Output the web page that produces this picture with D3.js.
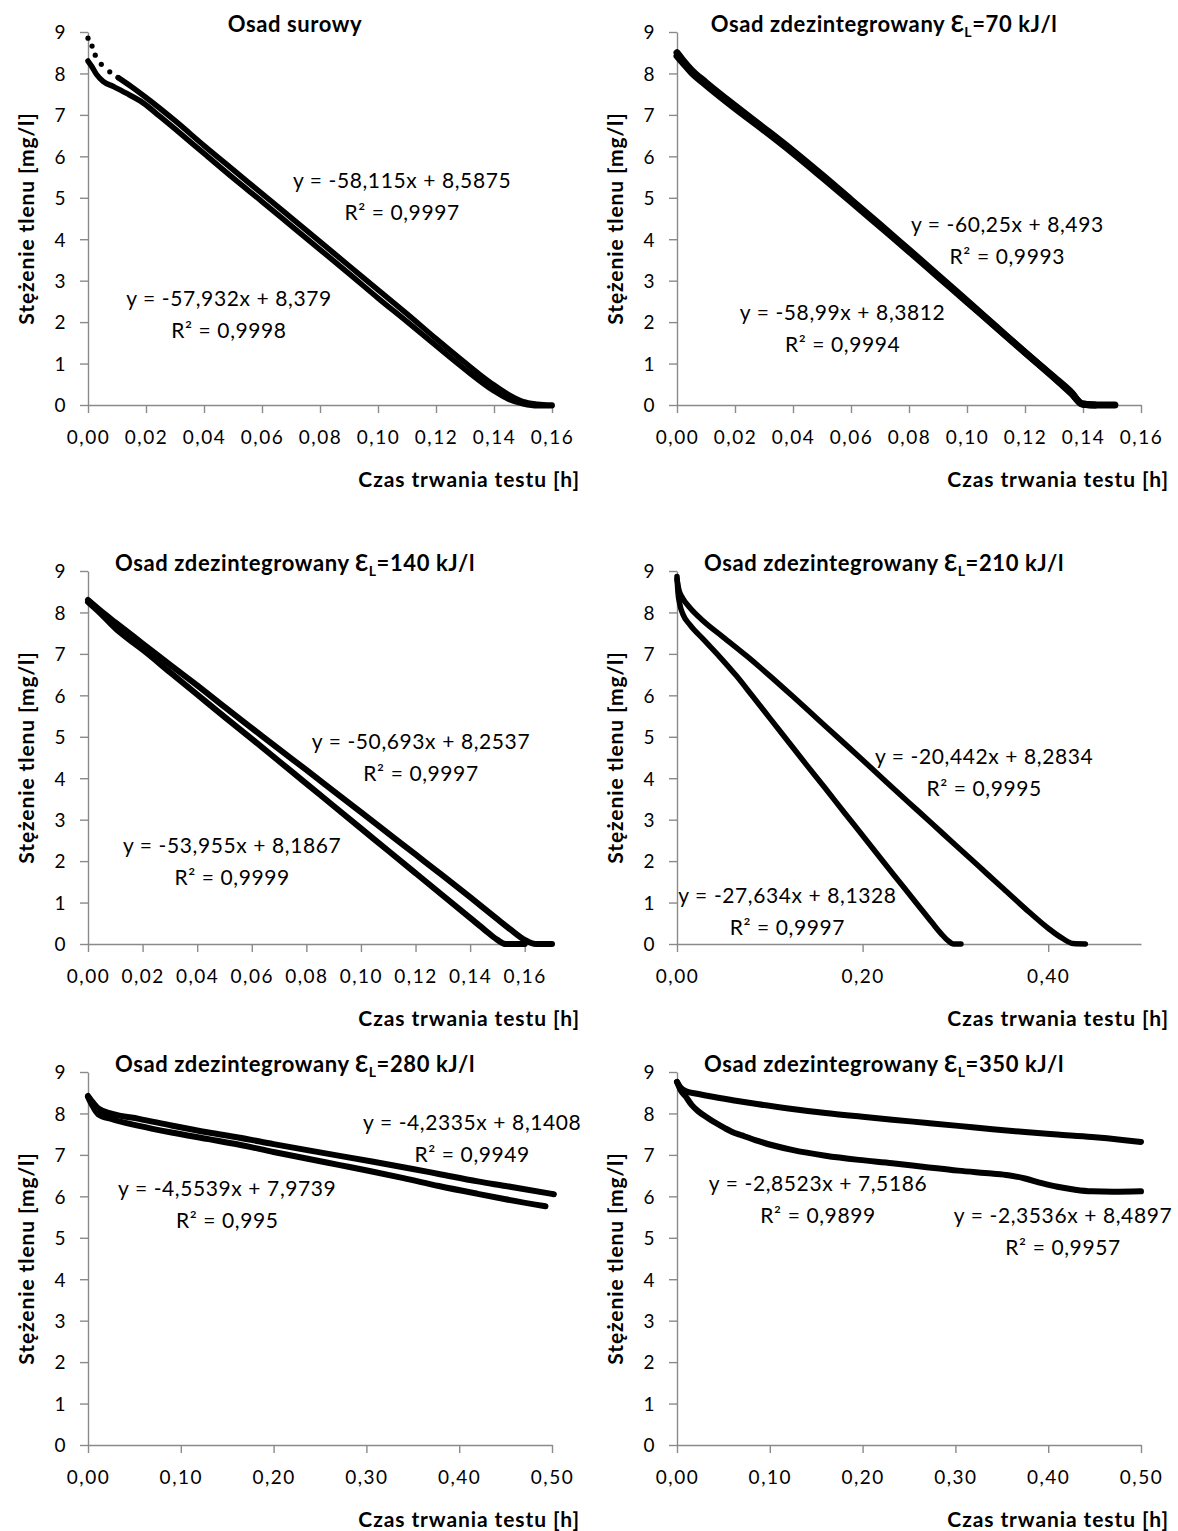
<!DOCTYPE html>
<html>
<head>
<meta charset="utf-8">
<script src="https://cdn.jsdelivr.net/npm/d3@7"></script>
<style>
  body { margin: 0; background: #fff; }
  text { font-family: Lato, "Open Sans", sans-serif; fill: #000; }
  .tick text { font-size: 19px; letter-spacing: 1.5px; }
  .ttl { font-size: 22px; font-weight: bold; letter-spacing: 0.6px; }
  .axt { font-size: 21px; font-weight: bold; letter-spacing: 0.9px; }
  .eq { font-size: 21px; letter-spacing: 0.6px; }
</style>
</head>
<body>
<div id="plot"></div>
<script>
// panel titles (energy of disintegration in kJ/l, null = raw sludge)
const titleText = ["Osad surowy", "Osad zdezintegrowany ", "Osad zdezintegrowany ", "Osad zdezintegrowany ", "Osad zdezintegrowany ", "Osad zdezintegrowany "];
const energy = [null, "70", "140", "210", "280", "350"];

// x axis per panel
const xMax = [0.16, 0.16, 0.17, 0.5, 0.5, 0.5];
const xStep = [0.02, 0.02, 0.02, 0.2, 0.1, 0.1];
const yTicks = [0, 1, 2, 3, 4, 5, 6, 7, 8, 9];

// Osad surowy
const p1aX = [0, 0.0014, 0.0025, 0.0046, 0.0075, 0.0104, 0.015, 0.02, 0.03, 0.04, 0.05, 0.06, 0.07, 0.08, 0.09, 0.10, 0.11, 0.12, 0.13, 0.135, 0.14, 0.145, 0.15, 0.155, 0.16];
const p1aY = [8.85, 8.66, 8.44, 8.22, 8.04, 7.90, 7.68, 7.42, 6.86, 6.26, 5.68, 5.10, 4.52, 3.94, 3.36, 2.78, 2.20, 1.60, 1.02, 0.74, 0.48, 0.25, 0.08, 0.02, 0.00];
const p1bX = [0, 0.0012, 0.0029, 0.0052, 0.0086, 0.013, 0.019, 0.025, 0.03, 0.04, 0.05, 0.06, 0.07, 0.08, 0.09, 0.10, 0.11, 0.12, 0.13, 0.14, 0.145, 0.15, 0.155, 0.16];
const p1bY = [8.30, 8.18, 7.98, 7.81, 7.69, 7.53, 7.29, 6.95, 6.66, 6.07, 5.48, 4.91, 4.33, 3.75, 3.17, 2.58, 2.01, 1.43, 0.86, 0.34, 0.14, 0.03, -0.02, -0.02];

// 70 kJ/l
const p2aX = [0, 0.002, 0.005, 0.01, 0.02, 0.03, 0.04, 0.05, 0.06, 0.07, 0.08, 0.09, 0.10, 0.11, 0.12, 0.13, 0.136, 0.14, 0.145, 0.151];
const p2aY = [8.50, 8.32, 8.08, 7.78, 7.22, 6.68, 6.13, 5.55, 4.95, 4.35, 3.74, 3.13, 2.51, 1.89, 1.27, 0.66, 0.28, 0.02, 0.00, 0.00];
const p2bX = [0, 0.002, 0.005, 0.01, 0.02, 0.03, 0.04, 0.05, 0.06, 0.07, 0.08, 0.09, 0.10, 0.11, 0.12, 0.13, 0.136, 0.1395, 0.144];
const p2bY = [8.42, 8.26, 8.02, 7.72, 7.16, 6.63, 6.08, 5.50, 4.91, 4.31, 3.71, 3.10, 2.49, 1.88, 1.27, 0.67, 0.30, 0.03, 0.00];

// 140 kJ/l
const p3aX = [0, 0.005, 0.01, 0.02, 0.03, 0.04, 0.05, 0.06, 0.07, 0.08, 0.09, 0.10, 0.11, 0.12, 0.13, 0.14, 0.15, 0.155, 0.16, 0.164, 0.17];
const p3aY = [8.30, 8.02, 7.76, 7.25, 6.74, 6.24, 5.72, 5.21, 4.70, 4.20, 3.69, 3.18, 2.67, 2.16, 1.65, 1.13, 0.60, 0.34, 0.10, 0.00, 0.00];
const p3bX = [0, 0.005, 0.01, 0.015, 0.02, 0.03, 0.04, 0.05, 0.06, 0.07, 0.08, 0.09, 0.10, 0.11, 0.12, 0.13, 0.14, 0.145, 0.15, 0.153, 0.16];
const p3bY = [8.25, 7.95, 7.62, 7.35, 7.10, 6.56, 6.02, 5.48, 4.95, 4.41, 3.87, 3.33, 2.79, 2.25, 1.71, 1.17, 0.63, 0.36, 0.10, 0.00, 0.00];

// 210 kJ/l
const p4aX = [0, 0.002, 0.006, 0.0137, 0.028, 0.05, 0.075, 0.10, 0.125, 0.15, 0.175, 0.20, 0.225, 0.25, 0.275, 0.30, 0.325, 0.35, 0.375, 0.40, 0.415, 0.427, 0.44];
const p4aY = [8.80, 8.55, 8.35, 8.12, 7.80, 7.40, 6.95, 6.47, 5.97, 5.46, 4.95, 4.44, 3.92, 3.41, 2.90, 2.39, 1.88, 1.37, 0.86, 0.38, 0.14, 0.01, 0.00];
const p4bX = [0, 0.001, 0.003, 0.0065, 0.014, 0.028, 0.046, 0.064, 0.08, 0.10, 0.12, 0.14, 0.16, 0.18, 0.20, 0.22, 0.24, 0.26, 0.275, 0.285, 0.292, 0.298, 0.306];
const p4bY = [8.87, 8.50, 8.20, 7.95, 7.70, 7.36, 6.93, 6.47, 6.02, 5.45, 4.88, 4.31, 3.75, 3.18, 2.62, 2.05, 1.49, 0.93, 0.51, 0.24, 0.08, 0.00, 0.00];

// 280 kJ/l
const p5aX = [0, 0.004, 0.011, 0.026, 0.055, 0.09, 0.13, 0.162, 0.2, 0.25, 0.306, 0.35, 0.378, 0.42, 0.45, 0.502];
const p5aY = [8.42, 8.30, 8.12, 7.99, 7.87, 7.71, 7.54, 7.42, 7.26, 7.06, 6.84, 6.66, 6.54, 6.36, 6.25, 6.05];
const p5bX = [0, 0.004, 0.011, 0.026, 0.055, 0.09, 0.13, 0.162, 0.2, 0.234, 0.27, 0.306, 0.34, 0.378, 0.42, 0.45, 0.493];
const p5bY = [8.40, 8.22, 7.98, 7.86, 7.70, 7.54, 7.38, 7.25, 7.07, 6.92, 6.76, 6.60, 6.44, 6.25, 6.06, 5.93, 5.76];

// 350 kJ/l
const p6aX = [0, 0.004, 0.009, 0.02, 0.034, 0.06, 0.088, 0.12, 0.16, 0.2, 0.232, 0.27, 0.303, 0.34, 0.375, 0.41, 0.447, 0.48, 0.5];
const p6aY = [8.76, 8.62, 8.54, 8.48, 8.42, 8.32, 8.22, 8.12, 8.01, 7.92, 7.85, 7.77, 7.70, 7.62, 7.55, 7.49, 7.43, 7.36, 7.31];
const p6bX = [0, 0.004, 0.009, 0.016, 0.023, 0.034, 0.041, 0.052, 0.059, 0.07, 0.088, 0.105, 0.124, 0.16, 0.196, 0.232, 0.267, 0.303, 0.339, 0.357, 0.375, 0.393, 0.41, 0.429, 0.447, 0.47, 0.5];
const p6bY = [8.76, 8.56, 8.42, 8.20, 8.05, 7.88, 7.78, 7.64, 7.56, 7.47, 7.33, 7.22, 7.12, 6.98, 6.88, 6.80, 6.71, 6.62, 6.55, 6.51, 6.43, 6.32, 6.23, 6.16, 6.12, 6.11, 6.12];

// trend line equations, [series a, series b]
const eqText = [
  ["y = -58,115x + 8,5875", "y = -57,932x + 8,379"],
  ["y = -60,25x + 8,493", "y = -58,99x + 8,3812"],
  ["y = -50,693x + 8,2537", "y = -53,955x + 8,1867"],
  ["y = -20,442x + 8,2834", "y = -27,634x + 8,1328"],
  ["y = -4,2335x + 8,1408", "y = -4,5539x + 7,9739"],
  ["y = -2,3536x + 8,4897", "y = -2,8523x + 7,5186"],
];
const r2Text = [
  ["0,9997", "0,9998"],
  ["0,9993", "0,9994"],
  ["0,9997", "0,9999"],
  ["0,9995", "0,9997"],
  ["0,9949", "0,995"],
  ["0,9957", "0,9899"],
];
// label anchors in data units (x [h], y [mg/l])
const eqAt = [
  [[0.1083, 5.41], [0.0486, 2.57]],
  [[0.1139, 4.36], [0.0571, 2.24]],
  [[0.122, 4.89], [0.0528, 2.38]],
  [[0.331, 4.53], [0.119, 1.17]],
  [[0.414, 7.79], [0.150, 6.20]],
  [[0.416, 5.55], [0.152, 6.32]],
];

const seriesX = [[p1aX, p1bX], [p2aX, p2bX], [p3aX, p3bX], [p4aX, p4bX], [p5aX, p5bX], [p6aX, p6bX]];
const seriesY = [[p1aY, p1bY], [p2aY, p2bY], [p3aY, p3bY], [p4aY, p4bY], [p5aY, p5bY], [p6aY, p6bY]];
// first points of raw sludge series a are loose dots
const looseDots = [[6, 0], [0, 0], [0, 0], [0, 0], [0, 0], [0, 0]];

const svgWidth = 1178;
const svgHeight = 1531;
const colLeft = [88, 677];
const rowTop = [32, 571, 1072];
const plotW = 464;
const plotH = 373;
const lineW = [5.5, 7, 6, 5.5, 6, 6];

const pl = d3.formatLocale({ decimal: ",", thousands: " ", grouping: [3], currency: ["", " zł"] });
const fmtX = pl.format(".2f");

const svg = d3
  .select("div#plot")
  .append("svg")
  .attr("width", svgWidth)
  .attr("height", svgHeight);

for (let i = 0; i < 6; i++) {
  const g = svg
    .append("g")
    .attr("transform", "translate(" + colLeft[i % 2] + "," + rowTop[Math.floor(i / 2)] + ")");

  const x = d3.scaleLinear().domain([0, xMax[i]]).range([0, plotW]);
  const y = d3.scaleLinear().domain([0, 9]).range([plotH, 0]);

  const nTicks = Math.floor(xMax[i] / xStep[i] + 1e-6);
  const xTicks = d3.range(0, nTicks + 1).map((k) => k * xStep[i]);

  const gx = g
    .append("g")
    .attr("transform", "translate(0," + plotH + ")")
    .call(d3.axisBottom(x).tickValues(xTicks).tickFormat(fmtX).tickSize(8).tickSizeOuter(0).tickPadding(18));
  const gy = g
    .append("g")
    .call(d3.axisLeft(y).tickValues(yTicks).tickFormat(d3.format("d")).tickSize(8).tickSizeOuter(0).tickPadding(13));

  [gx, gy].forEach((a) => {
    a.select(".domain").attr("stroke", "#8a8a8a").attr("stroke-width", 1.4);
    a.selectAll(".tick line").attr("stroke", "#8a8a8a").attr("stroke-width", 1.4);
    a.selectAll(".tick text").attr("fill", "#000");
  });
  gy.selectAll(".tick text").attr("dy", "0.36em");

  // series
  const line = d3
    .line()
    .x((d) => x(d[0]))
    .y((d) => y(d[1]))
    .curve(d3.curveMonotoneX);

  for (let s = 0; s < 2; s++) {
    const pts = seriesX[i][s].map((v, k) => [v, seriesY[i][s][k]]);
    const nd = looseDots[i][s];
    g.append("path")
      .datum(nd > 0 ? pts.slice(nd - 1) : pts)
      .attr("fill", "none")
      .attr("stroke", "#000")
      .attr("stroke-width", lineW[i])
      .attr("stroke-linejoin", "round")
      .attr("stroke-linecap", "round")
      .attr("d", line);
    g.selectAll(".dot" + s)
      .data(pts.slice(0, nd))
      .enter()
      .append("circle")
      .attr("cx", (d) => x(d[0]))
      .attr("cy", (d) => y(d[1]))
      .attr("r", 2.6)
      .attr("fill", "#000");
  }

  // title
  const t = g
    .append("text")
    .attr("class", "ttl")
    .attr("x", 207)
    .attr("y", 0)
    .attr("text-anchor", "middle")
    .text(titleText[i]);
  if (energy[i]) {
    t.append("tspan").text("\u0190");
    t.append("tspan").attr("dy", 5).style("font-size", "14px").text("L");
    t.append("tspan").attr("dy", -5).text("=" + energy[i] + " kJ/l");
  }

  // axis titles
  g.append("text")
    .attr("class", "axt")
    .attr("transform", "translate(" + -61 + "," + plotH / 2 + ") rotate(-90)")
    .attr("text-anchor", "middle")
    .attr("dy", "0.35em")
    .text("Stężenie tlenu [mg/l]");
  g.append("text")
    .attr("class", "axt")
    .attr("x", plotW + 28)
    .attr("y", plotH + 82)
    .attr("text-anchor", "end")
    .text("Czas trwania testu [h]");

  // trend line equations
  for (let s = 0; s < 2; s++) {
    const cx = x(eqAt[i][s][0]);
    const cy = y(eqAt[i][s][1]);
    g.append("text")
      .attr("class", "eq")
      .attr("x", cx)
      .attr("y", cy)
      .attr("dy", "0.36em")
      .attr("text-anchor", "middle")
      .text(eqText[i][s]);
    g.append("text")
      .attr("class", "eq")
      .attr("x", cx)
      .attr("y", cy + 32)
      .attr("dy", "0.36em")
      .attr("text-anchor", "middle")
      .text("R² = " + r2Text[i][s]);
  }
}
</script>
</body>
</html>
